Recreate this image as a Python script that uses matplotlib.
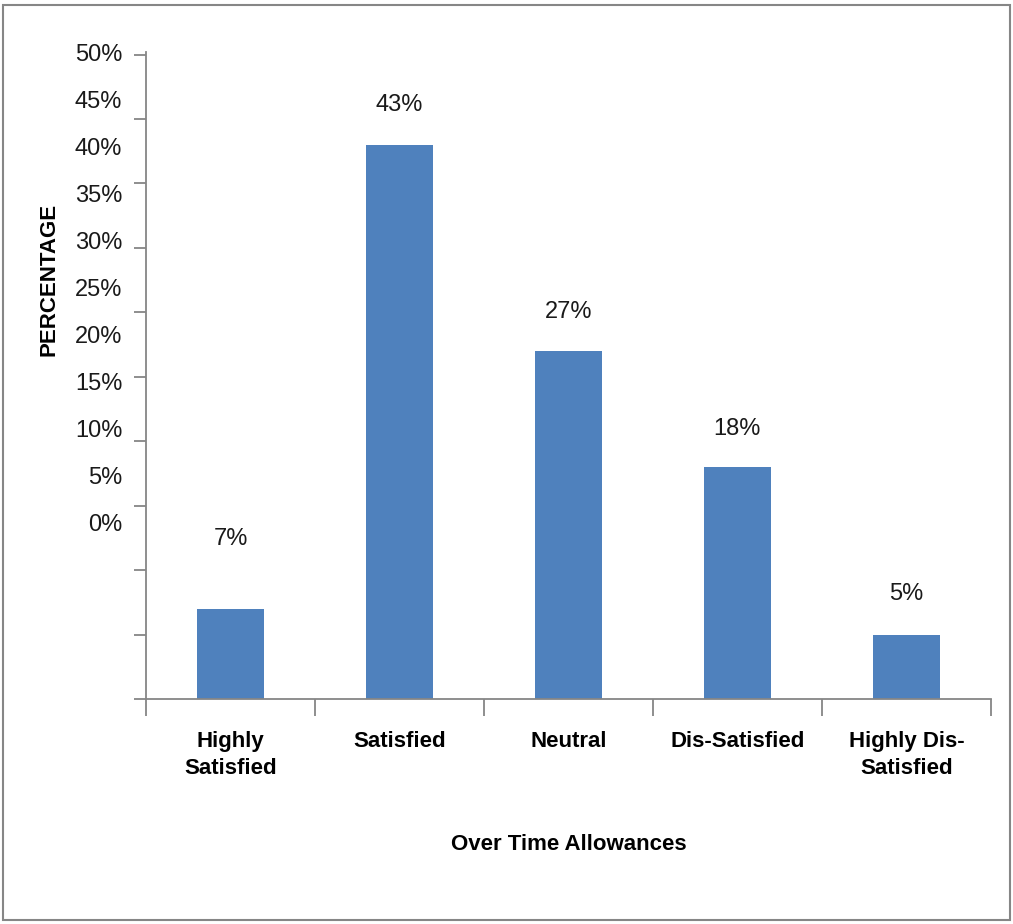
import matplotlib.pyplot as plt
from matplotlib.patches import Rectangle

categories = ['Highly\nSatisfied', 'Satisfied', 'Neutral', 'Dis-Satisfied', 'Highly Dis-\nSatisfied']
values = [7, 43, 27, 18, 5]
tick_values = [0, 5, 10, 15, 20, 25, 30, 35, 40, 45, 50]
tick_labels = ['0%', '5%', '10%', '15%', '20%', '25%', '30%', '35%', '40%', '45%', '50%']

plt.rcParams['font.family'] = ['Liberation Sans', 'DejaVu Sans']

fig = plt.figure(figsize=(10.13, 9.24), dpi=100)
ax = fig.add_axes([0.1441, 0.2435, 0.834, 0.7002])

x = list(range(len(categories)))
ax.bar(x, values, width=0.4, color='#4F81BD')

# value labels above bars (first one sits higher)
offsets = [70, 40, 39, 38, 41]
for xi, v, off in zip(x, values, offsets):
    ax.annotate(f'{v}%', (xi, v), xytext=(0, off), textcoords='offset pixels',
                ha='center', va='center', fontsize=17, color='#1a1a1a')

ax.set_xlim(-0.5, 4.5)
ax.set_ylim(0, 50)

# tick marks every 5%, labels placed on their own (shifted) positions
ax.set_yticks(tick_values)
ax.set_yticklabels([])
label_pos = [13.7 + 0.73 * t for t in tick_values]
ax.set_yticks(label_pos, tick_labels, minor=True)
ax.tick_params(axis='y', which='major', length=9, width=1.3, color='#868686')
ax.tick_params(axis='y', which='minor', length=0, pad=17, labelsize=17, labelcolor='#1a1a1a')

ax.set_xticks([i - 0.5 for i in range(len(categories) + 1)])
ax.set_xticklabels([])
ax.set_xticks(x, categories, minor=True)
ax.tick_params(axis='x', which='major', length=12, width=1.3, color='#868686')
ax.tick_params(axis='x', which='minor', length=0, pad=23, labelsize=16)
for lbl in ax.get_xticklabels(minor=True):
    lbl.set_fontweight('bold')
    lbl.set_linespacing(1.35)

for s in ['top', 'right']:
    ax.spines[s].set_visible(False)
for s in ['left', 'bottom']:
    ax.spines[s].set_color('#868686')
    ax.spines[s].set_linewidth(1.3)

ax.set_ylabel('PERCENTAGE', fontsize=16, fontweight='bold')
ax.yaxis.set_label_coords(-0.102, 0.648)
ax.set_xlabel('Over Time Allowances', fontsize=16, fontweight='bold')
ax.xaxis.set_label_coords(0.5, -0.208)

fig.patches.append(Rectangle((0.003, 0.004), 0.994, 0.991, transform=fig.transFigure,
                             fill=False, edgecolor='#868686', linewidth=1.5))

fig.savefig('out.png', dpi=100)
